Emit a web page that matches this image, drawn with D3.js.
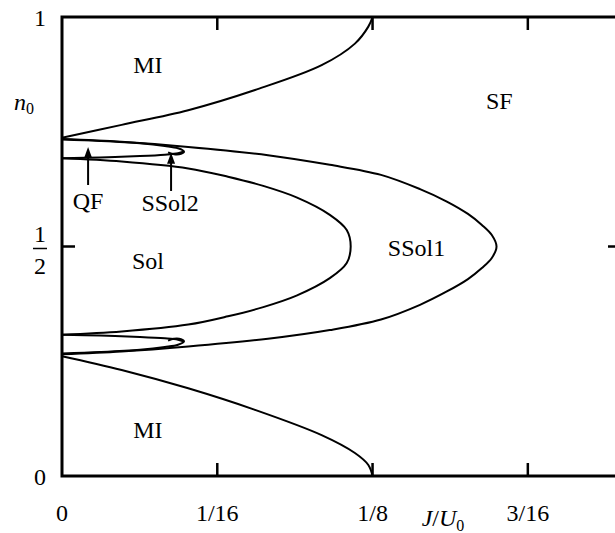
<!DOCTYPE html>
<html>
<head>
<meta charset="utf-8">
<script src="https://cdn.jsdelivr.net/npm/d3@7"></script>
<style>
  body { margin: 0; background: #fff; }
</style>
</head>
<body>
<div id="viz"></div>
<script>
// phase diagram n0 vs J/U0, boundaries

// Mott insulator boundaries
var miUpperX = [0, 0.024, 0.0508, 0.0777, 0.1045, 0.1179, 0.1233, 0.125];
var miUpperY = [0.737, 0.765, 0.797, 0.841, 0.895, 0.942, 0.979, 1.0];
var miLowerX = [0, 0.024, 0.0508, 0.0777, 0.1045, 0.1179, 0.1233, 0.125];
var miLowerY = [0.261, 0.231, 0.191, 0.144, 0.089, 0.050, 0.024, 0.0];

// SSol1 / SF boundary (top-left -> tip -> bottom-left)
var ssol1X = [0, 0.0239, 0.0508, 0.0829, 0.1078, 0.1284, 0.1441, 0.1549, 0.1634, 0.1690, 0.1730, 0.1749,
              0.1730, 0.1690, 0.1634, 0.1549, 0.1441, 0.1284, 0.1078, 0.0829, 0.0508, 0.0239, 0];
var ssol1Y = [0.734, 0.728, 0.717, 0.699, 0.678, 0.656, 0.625, 0.598, 0.571, 0.547, 0.525, 0.5,
              0.475, 0.453, 0.429, 0.402, 0.373, 0.341, 0.318, 0.299, 0.282, 0.271, 0.265];

// Sol / SSol1 boundary
var solX = [0, 0.024, 0.0508, 0.0668, 0.0810, 0.0944, 0.1078, 0.1146, 0.1162,
            0.1146, 0.1078, 0.0944, 0.0810, 0.0668, 0.0508, 0.024, 0];
var solY = [0.692, 0.685, 0.670, 0.652, 0.632, 0.607, 0.569, 0.536, 0.5,
            0.464, 0.431, 0.393, 0.368, 0.348, 0.330, 0.315, 0.308];

// small QF lobes (upper edge with hook, lower edge)
var lobeTopX = [0, 0.0153, 0.0314, 0.0414, 0.0467, 0.0491, 0.0479, 0.0451, 0.0427];
var lobeTopY = [0.733, 0.730, 0.725, 0.719, 0.714, 0.707, 0.702, 0.701, 0.705];
var lobeBotX = [0, 0.0153, 0.0314, 0.0414, 0.0467, 0.0491];
var lobeBotY = [0.692, 0.694, 0.697, 0.700, 0.703, 0.707];
var lobe2TopX = [0, 0.0153, 0.0314, 0.0414, 0.0467, 0.0491, 0.0479, 0.0451, 0.0427];
var lobe2TopY = [0.267, 0.270, 0.275, 0.281, 0.286, 0.293, 0.298, 0.299, 0.295];
var lobe2BotX = [0, 0.0153, 0.0314, 0.0414, 0.0467, 0.0491];
var lobe2BotY = [0.308, 0.306, 0.303, 0.300, 0.297, 0.293];

var xTicks = [1/16, 1/8, 3/16];
var xTickLabels = ["0", "1/16", "1/8", "3/16"];
var xTickLabelPos = [0, 1/16, 1/8, 3/16];

var regionNames = ["MI", "MI", "SF", "SSol1", "Sol", "QF", "SSol2"];
var regionX = [0.0346, 0.0346, 0.176, 0.1427, 0.0346, 0.0105, 0.0435];
var regionY = [0.895, 0.100, 0.818, 0.497, 0.468, 0.600, 0.595];

// arrows: x, from y, to y
var arrowX = [0.0105, 0.0439];
var arrowFrom = [0.634, 0.621];
var arrowTo = [0.717, 0.704];

var width = 615, height = 533;
var serif = "'Liberation Serif', 'DejaVu Serif', 'Times New Roman', serif";

var svg = d3.select("#viz").append("svg")
    .attr("width", width).attr("height", height)
    .attr("font-family", serif);

var x = d3.scaleLinear().domain([0, 0.225]).range([62, 621]);
var y = d3.scaleLinear().domain([0, 1]).range([476, 17]);

function add_curve(xs, ys) {
    var pts = xs.map(function(d, i) { return [d, ys[i]]; });
    var line = d3.line()
        .x(function(d) { return x(d[0]); })
        .y(function(d) { return y(d[1]); })
        .curve(d3.curveCatmullRom.alpha(0.5));
    svg.append("path")
        .attr("d", line(pts))
        .attr("fill", "none")
        .attr("stroke", "#000")
        .attr("stroke-width", 2);
}

add_curve(miUpperX, miUpperY);
add_curve(miLowerX, miLowerY);
add_curve(ssol1X, ssol1Y);
add_curve(solX, solY);
add_curve(lobeTopX, lobeTopY);
add_curve(lobeBotX, lobeBotY);
add_curve(lobe2TopX, lobe2TopY);
add_curve(lobe2BotX, lobe2BotY);

// frame
svg.append("rect")
    .attr("x", x(0)).attr("y", y(1))
    .attr("width", x(0.225) - x(0)).attr("height", y(0) - y(1))
    .attr("fill", "none").attr("stroke", "#000").attr("stroke-width", 3);

// inward ticks
var tickLen = 13;
xTicks.forEach(function(t) {
    svg.append("line").attr("x1", x(t)).attr("x2", x(t))
        .attr("y1", y(0)).attr("y2", y(0) - tickLen)
        .attr("stroke", "#000").attr("stroke-width", 2.5);
    svg.append("line").attr("x1", x(t)).attr("x2", x(t))
        .attr("y1", y(1)).attr("y2", y(1) + tickLen)
        .attr("stroke", "#000").attr("stroke-width", 2.5);
});
svg.append("line").attr("x1", x(0)).attr("x2", x(0) + tickLen)
    .attr("y1", y(0.5)).attr("y2", y(0.5))
    .attr("stroke", "#000").attr("stroke-width", 2.5);
svg.append("line").attr("x1", x(0.225)).attr("x2", x(0.225) - tickLen)
    .attr("y1", y(0.5)).attr("y2", y(0.5))
    .attr("stroke", "#000").attr("stroke-width", 2.5);

// x tick labels
xTickLabelPos.forEach(function(t, i) {
    svg.append("text")
        .attr("x", x(t)).attr("y", 521)
        .attr("text-anchor", "middle")
        .attr("font-size", 24)
        .text(xTickLabels[i]);
});

// x axis title J/U0
var xt = svg.append("text").attr("x", 443).attr("y", 526)
    .attr("text-anchor", "middle").attr("font-size", 24);
xt.append("tspan").attr("font-style", "italic").text("J");
xt.append("tspan").text("/");
xt.append("tspan").attr("font-style", "italic").text("U");
xt.append("tspan").attr("font-size", 16).attr("dy", 5).text("0");

// y tick labels
svg.append("text").attr("x", 40).attr("y", y(1) + 9)
    .attr("text-anchor", "middle").attr("font-size", 24).text("1");
svg.append("text").attr("x", 40).attr("y", y(0) + 9)
    .attr("text-anchor", "middle").attr("font-size", 24).text("0");
svg.append("text").attr("x", 40).attr("y", y(0.5) - 5)
    .attr("text-anchor", "middle").attr("font-size", 24).text("1");
svg.append("line").attr("x1", 33).attr("x2", 47)
    .attr("y1", y(0.5) + 2).attr("y2", y(0.5) + 2)
    .attr("stroke", "#000").attr("stroke-width", 1.5);
svg.append("text").attr("x", 40).attr("y", y(0.5) + 27)
    .attr("text-anchor", "middle").attr("font-size", 24).text("2");

// y axis title n0
var yt = svg.append("text").attr("x", 24).attr("y", 110)
    .attr("text-anchor", "middle").attr("font-size", 24);
yt.append("tspan").attr("font-style", "italic").text("n");
yt.append("tspan").attr("font-size", 16).attr("dy", 4).text("0");

// region labels
regionNames.forEach(function(name, i) {
    svg.append("text")
        .attr("x", x(regionX[i])).attr("y", y(regionY[i]))
        .attr("text-anchor", "middle")
        .attr("dominant-baseline", "central")
        .attr("font-size", 24)
        .text(name);
});

// arrows
arrowX.forEach(function(ax, i) {
    var px = x(ax), y0 = y(arrowFrom[i]), y1 = y(arrowTo[i]);
    svg.append("line").attr("x1", px).attr("x2", px)
        .attr("y1", y0).attr("y2", y1 + 8)
        .attr("stroke", "#000").attr("stroke-width", 2);
    svg.append("path")
        .attr("d", "M" + px + "," + y1 + "L" + (px - 4) + "," + (y1 + 11) + "L" + (px + 4) + "," + (y1 + 11) + "Z")
        .attr("fill", "#000");
});
</script>
</body>
</html>
